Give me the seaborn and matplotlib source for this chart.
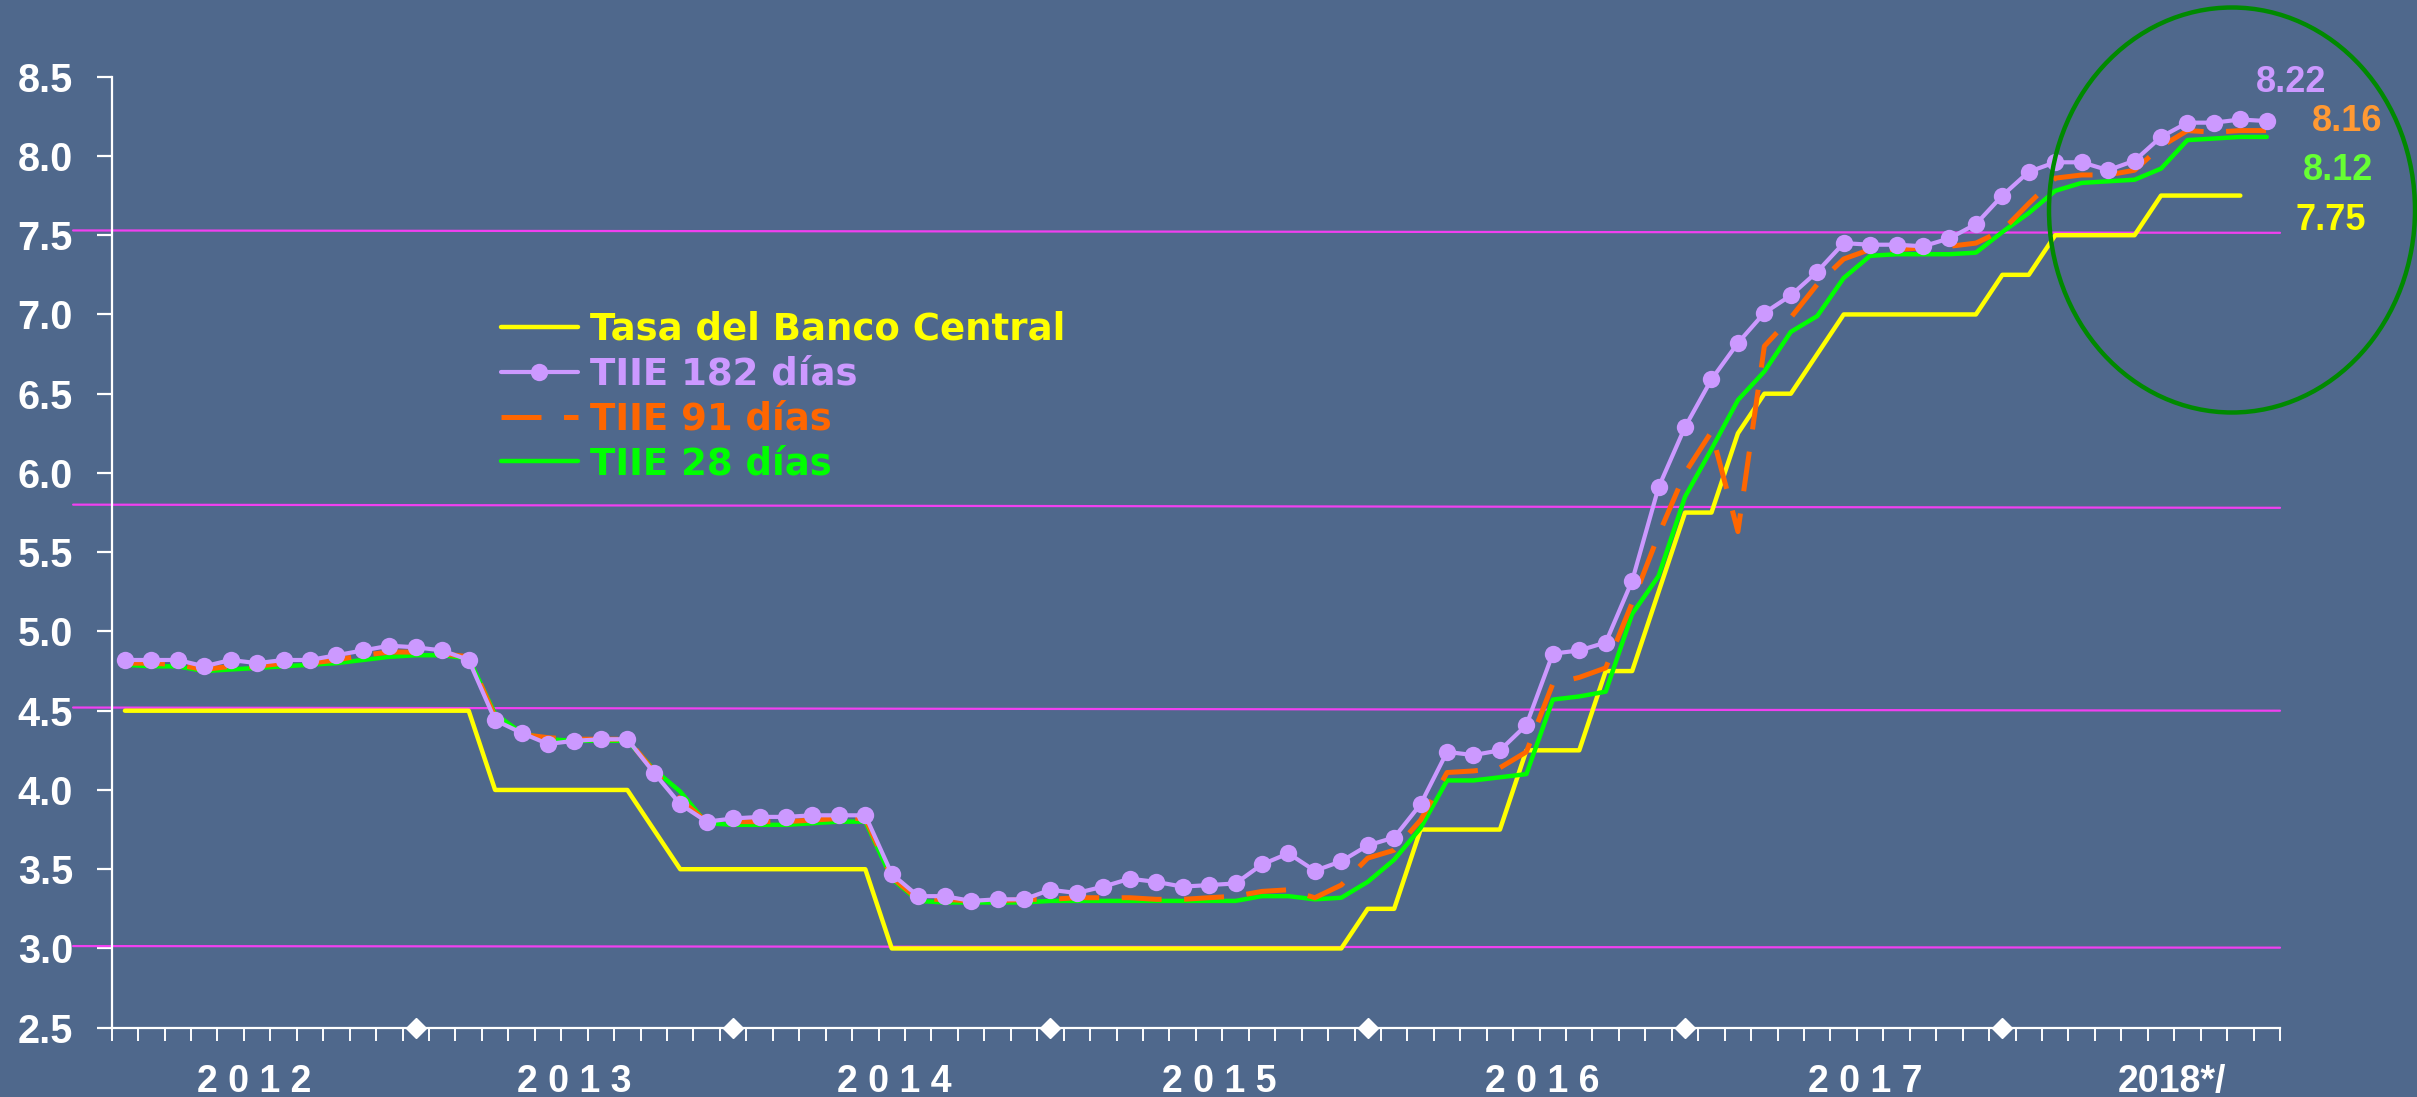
import numpy as np
import pandas as pd
import matplotlib
matplotlib.use("Agg")
import matplotlib.pyplot as plt
from matplotlib.patches import Ellipse
from matplotlib.lines import Line2D
import seaborn as sns

# ---------------- data ----------------
months = pd.period_range("2012-01", "2018-10", freq="M").strftime("%Y-%m").tolist()

tasa_banco_central = [
    4.50, 4.50, 4.50, 4.50, 4.50, 4.50, 4.50, 4.50, 4.50, 4.50, 4.50, 4.50,   # 2012
    4.50, 4.50, 4.00, 4.00, 4.00, 4.00, 4.00, 4.00, 3.75, 3.50, 3.50, 3.50,   # 2013
    3.50, 3.50, 3.50, 3.50, 3.50, 3.00, 3.00, 3.00, 3.00, 3.00, 3.00, 3.00,   # 2014
    3.00, 3.00, 3.00, 3.00, 3.00, 3.00, 3.00, 3.00, 3.00, 3.00, 3.00, 3.25,   # 2015
    3.25, 3.75, 3.75, 3.75, 3.75, 4.25, 4.25, 4.25, 4.75, 4.75, 5.25, 5.75,   # 2016
    5.75, 6.25, 6.50, 6.50, 6.75, 7.00, 7.00, 7.00, 7.00, 7.00, 7.00, 7.25,   # 2017
    7.25, 7.50, 7.50, 7.50, 7.50, 7.75, 7.75, 7.75, 7.75, np.nan,             # 2018
]
tiie_182 = [
    4.82, 4.82, 4.82, 4.78, 4.82, 4.80, 4.82, 4.82, 4.85, 4.88, 4.91, 4.90,
    4.88, 4.82, 4.44, 4.36, 4.29, 4.31, 4.32, 4.32, 4.11, 3.91, 3.80, 3.82,
    3.83, 3.83, 3.84, 3.84, 3.84, 3.47, 3.33, 3.33, 3.30, 3.31, 3.31, 3.37,
    3.35, 3.39, 3.44, 3.42, 3.39, 3.40, 3.41, 3.53, 3.60, 3.49, 3.55, 3.65,
    3.70, 3.91, 4.24, 4.22, 4.25, 4.41, 4.86, 4.88, 4.93, 5.32, 5.91, 6.29,
    6.59, 6.82, 7.01, 7.12, 7.27, 7.45, 7.44, 7.44, 7.43, 7.48, 7.57, 7.75,
    7.90, 7.96, 7.96, 7.91, 7.97, 8.12, 8.21, 8.21, 8.23, 8.22,
]
tiie_91 = [
    4.80, 4.80, 4.79, 4.76, 4.78, 4.78, 4.80, 4.80, 4.82, 4.85, 4.87, 4.87,
    4.86, 4.84, 4.46, 4.35, 4.33, 4.32, 4.32, 4.32, 4.12, 3.94, 3.80, 3.80,
    3.80, 3.80, 3.81, 3.82, 3.82, 3.45, 3.31, 3.31, 3.30, 3.30, 3.31, 3.31,
    3.32, 3.32, 3.32, 3.31, 3.31, 3.32, 3.33, 3.36, 3.37, 3.32, 3.40, 3.57,
    3.62, 3.81, 4.11, 4.12, 4.14, 4.24, 4.67, 4.71, 4.77, 5.18, 5.61, 6.00,
    6.26, 5.63, 6.80, 6.98, 7.19, 7.35, 7.41, 7.41, 7.42, 7.43, 7.45, 7.53,
    7.70, 7.86, 7.88, 7.88, 7.91, 8.06, 8.16, 8.15, 8.16, 8.16,
]
tiie_28 = [
    4.79, 4.78, 4.78, 4.75, 4.76, 4.77, 4.78, 4.79, 4.80, 4.82, 4.84, 4.85,
    4.85, 4.83, 4.48, 4.36, 4.32, 4.31, 4.31, 4.31, 4.13, 3.99, 3.79, 3.78,
    3.78, 3.78, 3.79, 3.80, 3.80, 3.44, 3.30, 3.29, 3.29, 3.29, 3.29, 3.30,
    3.30, 3.30, 3.30, 3.30, 3.30, 3.30, 3.30, 3.33, 3.33, 3.31, 3.32, 3.42,
    3.56, 3.76, 4.06, 4.06, 4.08, 4.10, 4.57, 4.59, 4.62, 5.11, 5.35, 5.85,
    6.15, 6.46, 6.64, 6.89, 6.99, 7.23, 7.37, 7.38, 7.38, 7.38, 7.39, 7.52,
    7.64, 7.78, 7.83, 7.84, 7.85, 7.92, 8.10, 8.11, 8.12, 8.12,
]

series_names = ["Tasa del Banco Central", "TIIE 182 días", "TIIE 91 días", "TIIE 28 días"]
series_colors = ["#FFFF00", "#CC99FF", "#FF6600", "#00FF00"]
end_label_colors = ["#FFFF00", "#CC99FF", "#FF9933", "#66FF33"]

year_labels = ["2 0 1 2", "2 0 1 3", "2 0 1 4", "2 0 1 5", "2 0 1 6", "2 0 1 7", "2018*/"]
year_label_pos = [4.9, 17.0, 29.1, 41.4, 53.6, 65.8, 77.4]
year_marks = ["2012-12", "2013-12", "2014-12", "2015-12", "2016-12", "2017-12"]
y_ticks = [2.5, 3.0, 3.5, 4.0, 4.5, 5.0, 5.5, 6.0, 6.5, 7.0, 7.5, 8.0, 8.5]

# reference (magenta) lines: level at left end, level at right end
ref_left = [7.53, 5.80, 4.52, 3.015]
ref_right = [7.515, 5.78, 4.50, 3.005]

# end-value labels: (x, y) positions in data units
end_label_xy = [(83.42, 7.595), (81.93, 8.462), (84.04, 8.216), (83.70, 7.911)]

# ---------------- style ----------------
BG = "#4F688C"
W, H = 2417, 1097
sns.set_style("ticks")
plt.rcParams["font.family"] = ["Liberation Sans", "DejaVu Sans"]
plt.rcParams["font.weight"] = "bold"

df = pd.DataFrame({
    "mes": np.arange(len(months)),
    "tasa": tasa_banco_central,
    "t182": tiie_182,
    "t91": tiie_91,
    "t28": tiie_28,
})

fig = plt.figure(figsize=(W / 100, H / 100), dpi=100, facecolor=BG)
ax = fig.add_axes([111.7 / W, 1 - 1027.7 / H, (2280 - 111.7) / W, (1027.7 - 76.7) / H])
ax.set_facecolor(BG)

n = len(months)
ax.set_xlim(-0.5, n - 0.5)
ax.set_ylim(2.5, 8.5)

# reference lines
for yl, yr in zip(ref_left, ref_right):
    ax.plot([-1.96, n - 0.5], [yl, yr], color="#F040F0", lw=1.6, clip_on=False, zorder=2.5)

sns.lineplot(data=df, x="mes", y="t28", ax=ax, color=series_colors[3], lw=3.2,
             estimator=None, zorder=3, legend=False)
sns.lineplot(data=df, x="mes", y="t91", ax=ax, color=series_colors[2], lw=3.6,
             estimator=None, zorder=3.2, legend=False)
ax.lines[-1].set_dashes((8, 4.5))
sns.lineplot(data=df, x="mes", y="tasa", ax=ax, color=series_colors[0], lw=3.2,
             estimator=None, zorder=2.8, legend=False)
sns.lineplot(data=df, x="mes", y="t182", ax=ax, color=series_colors[1], lw=3.0,
             marker="o", markersize=12.5, markeredgewidth=0, estimator=None,
             zorder=3.5, legend=False)

# diamonds on x axis
diamond_x = [months.index(m) for m in year_marks]
ax.plot(diamond_x, [y_ticks[0]] * len(diamond_x), linestyle="none", marker="D",
        markersize=10, color="white", clip_on=False, zorder=5)

# axes styling
for s in ["top", "right"]:
    ax.spines[s].set_visible(False)
for s in ["left", "bottom"]:
    ax.spines[s].set_color("white")
    ax.spines[s].set_linewidth(1.6)

ax.set_yticks(y_ticks)
ax.set_yticklabels([f"{v:.1f}" for v in y_ticks])
ax.tick_params(axis="y", colors="white", labelcolor="white", length=10.8, width=1.6,
               pad=17, labelsize=28.5, direction="out")
ax.set_xticks(year_label_pos)
ax.set_xticklabels(year_labels)
ax.set_xticks(np.arange(-0.5, n, 1.0), minor=True)
ax.tick_params(axis="x", which="major", length=0, pad=25.8, labelsize=27,
               labelcolor="white")
ax.tick_params(axis="x", which="minor", length=9.4, width=1.4, color="white",
               direction="out")
for lab in ax.get_xticklabels() + ax.get_yticklabels():
    lab.set_fontweight("bold")
ax.set_xlabel("")
ax.set_ylabel("")
ax.grid(False)

# legend
handles = [
    Line2D([], [], color=series_colors[0], lw=3.2),
    Line2D([], [], color=series_colors[1], lw=3.0, marker="o", markersize=12.5, markeredgewidth=0),
    Line2D([], [], color=series_colors[2], lw=3.6, dashes=(8, 4.5)),
    Line2D([], [], color=series_colors[3], lw=3.2),
]
leg = fig.legend(handles, series_names, loc="upper left",
                 bbox_to_anchor=(500.7 / W, 1 - 311 / H), frameon=False,
                 prop={"size": 26.7, "weight": "bold", "family": ["DejaVu Sans"]},
                 handlelength=2.08, handletextpad=0.33, labelspacing=0.21,
                 borderpad=0, borderaxespad=0)
for txt, c in zip(leg.get_texts(), series_colors):
    txt.set_color(c)

# end-value labels
last_vals = [tasa_banco_central[-2], tiie_182[-1], tiie_91[-1], tiie_28[-1]]
for (x, y), v, c in zip(end_label_xy, last_vals, end_label_colors):
    ax.text(x, y, f"{v:.2f}", color=c, fontsize=26, fontweight="bold",
            ha="center", va="center", clip_on=False)

# highlight ellipse
fig.add_artist(Ellipse((2232 / W, 1 - 210 / H), width=366 / W, height=405 / H,
                       transform=fig.transFigure, fill=False, edgecolor="#008A00",
                       lw=3.2))

fig.savefig("out.png", dpi=100, facecolor=BG)
